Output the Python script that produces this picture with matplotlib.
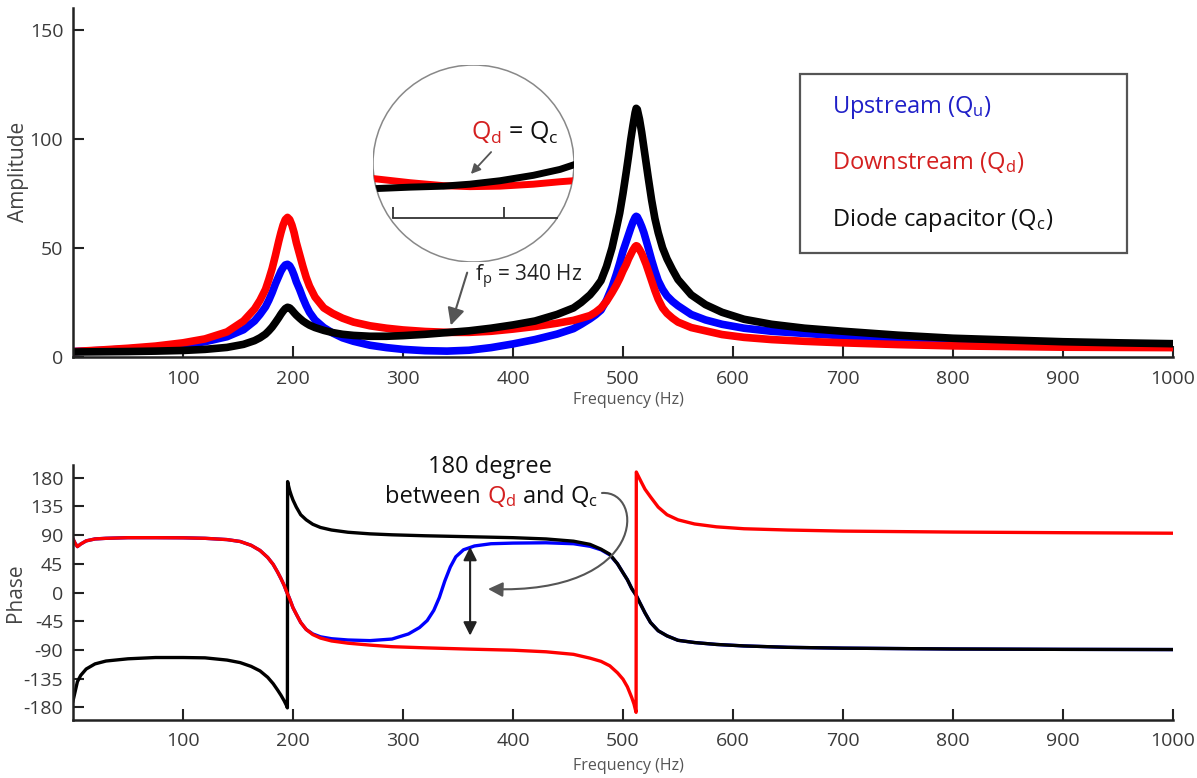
import matplotlib
matplotlib.use("Agg")
import matplotlib.pyplot as plt
from matplotlib.patches import Ellipse, Rectangle, FancyArrowPatch
from matplotlib.path import Path

plt.rcParams['font.family'] = ['Open Sans', 'DejaVu Sans']
plt.rcParams['mathtext.fontset'] = 'custom'
plt.rcParams['mathtext.rm'] = 'Open Sans'
plt.rcParams['mathtext.it'] = 'Open Sans:italic'
plt.rcParams['axes.unicode_minus'] = False

# ---- amplitude (top panel) ----
freq_amp = [0, 25, 50, 75, 100, 120, 140, 155, 165,
            170, 175, 178, 181, 184, 187, 189, 191, 193, 195, 197, 199, 201, 203, 206, 209, 212, 215, 220,
            228, 236, 245, 255, 270, 285, 300, 320, 340, 360, 380, 400, 420, 440, 455, 462, 470, 475,
            480, 485, 490, 494, 497, 500, 503, 505, 507, 509, 511, 512, 513, 515, 517, 519, 521, 523,
            526, 529, 532, 536, 540, 545, 550,
            562, 575, 590, 610, 635, 665, 700, 750, 800, 850, 900, 950, 1000]
amp_up = [2.5, 3.0, 3.7, 4.5, 5.6, 7.0, 9.3, 12.5, 16.5,
          19.5, 23, 26, 29.5, 33.5, 37, 39.3, 41, 42.2, 42.5, 41.8, 40, 37.5, 34.5, 31, 27, 23.5, 20.5, 17,
          13.5, 11, 8.8, 7.2, 5.4, 4.3, 3.5, 2.9, 2.7, 3.1, 4.3, 6.0, 8.0, 10.5, 13, 15, 17.5, 19.3,
          21.5, 26, 32, 38, 43, 48.5, 53, 56, 59, 61.8, 64, 64.5, 64.2, 62.2, 59.8, 57, 53.5, 50,
          44.5, 39.5, 35, 31, 28, 25.5, 23.5,
          19.5, 17, 15, 13.2, 11.8, 10.8, 9.7, 8.2, 7.1, 6.6, 6.1, 5.8, 5.5]
amp_down = [2.5, 3.2, 4.0, 5.0, 6.5, 8.3, 11.5, 16.5, 22,
            26, 31, 35.5, 40.5, 46.5, 53, 57, 60.5, 63, 64, 63, 60.5, 57, 52.5, 47, 41.5, 36.5, 32.5, 27.5,
            22.5, 20, 17.8, 16, 14.3, 13.2, 12.4, 11.7, 11.3, 11.3, 11.8, 12.8, 14, 15.5, 16.8, 17.8, 19, 20.5,
            22.5, 25.5, 29.5, 33, 36, 39.5, 42.5, 45, 47, 49, 50.6, 51, 50.8, 49.3, 47.5, 45, 42.5, 39.5,
            35, 30.5, 26.5, 22.5, 20, 17.8, 16,
            13.5, 12, 10.3, 9, 8, 7.2, 6.5, 5.7, 5.1, 4.8, 4.5, 4.4, 4.3]
amp_diode = [2.3, 2.4, 2.5, 2.7, 3.0, 3.5, 4.4, 5.8, 7.5,
             8.8, 10.5, 12, 13.7, 15.8, 18, 19.6, 21, 22.2, 22.8, 22.5, 21.5, 20.3, 19.2, 17.8, 16.5, 15.5, 14.6, 13.5,
             12.2, 11.2, 10.4, 9.9, 9.5, 9.5, 9.8, 10.4, 11.2, 12, 13.2, 14.7, 16.5, 19.5, 22.5, 25, 28.5, 31.5,
             35, 41.5, 50, 59, 66, 75, 85, 92, 99.5, 106, 112, 114, 113.5, 109, 103, 96, 89, 82,
             72, 63.5, 57, 50, 45, 40, 35.5,
             28.5, 24, 20.5, 17.3, 15, 13.2, 11.8, 10, 8.6, 7.8, 7.0, 6.5, 6.1]

# magnified view around f_p shown in the circle
inset_freq = [291.9, 307.7, 322.7, 334.7, 348.2, 363.2, 375.2, 381.2]
inset_down = [16.9, 16.1, 15.5, 15.3, 15.4, 15.8, 16.3, 16.5]
inset_diode = [14.9, 15.2, 15.4, 15.8, 16.5, 17.6, 18.8, 19.7]
inset_ticks = [300, 350]

# ---- phase (bottom panel) ----
ph_freq_down = [0, 2, 4, 7, 12, 20, 30, 50, 75, 100,
                120, 140, 152, 162, 170, 177, 182, 186, 189, 192,
                194, 195, 196.5, 198.5, 200, 203, 207, 212, 218, 225,
                235, 250, 270, 290, 320, 360, 400, 430, 455, 470,
                480, 488, 495, 500, 504, 508, 510, 511.9, 512.1, 513.5,
                517, 520, 525, 532, 540, 550, 565, 585, 610, 650,
                700, 800, 900, 1000]
ph_down = [84, 77, 72, 76, 81, 84, 85, 86, 86, 85.8,
           85, 83, 80, 74, 66, 55, 44, 32, 22, 11,
           2, -2, -8, -17, -24, -34, -47, -58, -66, -71.5,
           -76, -79.5, -82.5, -85, -86.8, -88.8, -90.5, -93, -97, -103,
           -108, -115, -126, -136, -148, -165, -175, -188, 189, 184,
           172, 162, 150, 134, 122, 114, 107.5, 103, 100, 98,
           96.3, 94.8, 93.8, 93]

ph_freq_up = [0, 2, 4, 7, 12, 20, 30, 50, 75, 100,
              120, 140, 152, 162, 170, 177, 182, 186, 189, 192,
              194, 195, 196.5, 198.5, 200, 203, 207, 212, 218, 225,
              235, 250, 270, 290, 305, 315, 322, 328, 333, 338,
              343, 348, 355, 365, 380, 400, 430, 455, 470, 480,
              488, 495, 500, 504, 508, 512, 515, 520, 525, 532,
              540, 550, 565, 585, 610, 650, 700, 800, 900, 1000]
ph_up = [84, 77, 72, 76, 81, 84, 85, 86, 86, 85.8,
         85, 83, 80, 74, 66, 55, 44, 32, 22, 11,
         2, -2, -8, -17, -24, -34, -47, -58, -65, -69.5,
         -72.5, -74.5, -75.5, -73, -65, -55, -44, -28, -8, 18,
         40, 56, 67, 73, 76.5, 77.5, 78, 76.5, 72.5, 67,
         59, 45, 31, 20, 6, -4.5, -15, -32, -47, -60,
         -68, -75, -78.5, -81.5, -83.8, -86, -87.3, -88.6, -89.2, -89.5]

ph_freq_diode = [0, 2, 4, 7, 12, 20, 30, 50, 75, 100,
                 120, 140, 152, 162, 170, 177, 182, 186, 189, 192,
                 193, 194, 194.9, 195.1, 196, 197, 198.5, 200, 203, 207,
                 212, 218, 225, 235, 250, 270, 290, 320, 360, 400,
                 430, 455, 470, 480, 488, 495, 500, 504, 508, 512,
                 515, 520, 525, 532, 540, 550, 565, 585, 610, 650,
                 700, 800, 900, 1000]
ph_diode = [-170, -155, -140, -130, -120, -112, -107.5, -104, -102, -102,
            -102.5, -106, -110, -116, -123, -133, -143, -153, -161, -170,
            -173.5, -177, -181, 174, 167, 160, 152, 145, 134, 122,
            114, 107, 102, 98, 94.5, 92, 90.5, 89, 87.5, 86,
            84, 80.5, 75.5, 68, 60, 45, 31, 20, 6, -4.5,
            -15, -32, -47, -60, -68, -75, -78.5, -81.5, -83.8, -86,
            -87.3, -88.6, -89.2, -89.5]

freq_ticks = [100, 200, 300, 400, 500, 600, 700, 800, 900, 1000]
amp_ticks = [0, 50, 100, 150]
phase_ticks = [-180, -135, -90, -45, 0, 45, 90, 135, 180]

BLUE, RED, BLACK = '#0000ff', '#ff0000', '#000000'
W, H = 1197, 778


def fx(x):
    return x / W


def fy(y):
    return 1 - y / H


def style_axis(ax):
    for s in ['top', 'right']:
        ax.spines[s].set_visible(False)
    for s in ['left', 'bottom']:
        ax.spines[s].set_linewidth(1.8)
        ax.spines[s].set_color('#222222')
    ax.tick_params(direction='in', length=8, width=1.5, color='#222222',
                   labelcolor='#3a3a3a', labelsize=14)
    ax.tick_params(axis='x', pad=9)
    ax.tick_params(axis='y', pad=7)


fig = plt.figure(figsize=(W / 100, H / 100), dpi=100)
ax1 = fig.add_axes([fx(73), fy(357), 1100 / W, 349 / H])
ax2 = fig.add_axes([fx(73), fy(720), 1100 / W, 255 / H])

# top panel
for vals, col in [(amp_up, BLUE), (amp_down, RED), (amp_diode, BLACK)]:
    ax1.plot(freq_amp, vals, color=col, lw=5.5, solid_capstyle='round', solid_joinstyle='round')
ax1.set_xlim(0, 1000)
ax1.set_ylim(0, 160)
ax1.set_xticks(freq_ticks)
ax1.set_yticks(amp_ticks)
style_axis(ax1)
ax1.set_xlabel('Frequency (Hz)', fontsize=11.5, color='#555555')
ax1.xaxis.set_label_coords(0.505, -0.10)
ax1.set_ylabel('Amplitude', fontsize=15, color='#444444')
ax1.yaxis.set_label_coords(-0.040, 0.53)

# bottom panel
ax2.plot(ph_freq_up, ph_up, color=BLUE, lw=2.4)
ax2.plot(ph_freq_diode, ph_diode, color=BLACK, lw=2.4)
ax2.plot(ph_freq_down, ph_down, color=RED, lw=2.4)
ax2.set_xlim(0, 1000)
ax2.set_ylim(-200, 200)
ax2.set_xticks(freq_ticks)
ax2.set_yticks(phase_ticks)
style_axis(ax2)
ax2.set_xlabel('Frequency (Hz)', fontsize=11.5, color='#555555')
ax2.xaxis.set_label_coords(0.505, -0.15)
ax2.set_ylabel('Phase', fontsize=15, color='#444444')
ax2.yaxis.set_label_coords(-0.043, 0.50)

# legend box
fig.patches.append(Rectangle((fx(800), fy(253)), 327 / W, 179 / H, transform=fig.transFigure,
                             fill=False, edgecolor='#555555', lw=1.6))
fig.text(fx(832), fy(113), r'Upstream ($\mathregular{Q_u}$)', color='#2020c8', fontsize=17)
fig.text(fx(832), fy(169), r'Downstream ($\mathregular{Q_d}$)', color='#d42020', fontsize=17)
fig.text(fx(832), fy(226), r'Diode capacitor ($\mathregular{Q_c}$)', color='#111111', fontsize=17)

# inset circle
ins = fig.add_axes([fx(373), fy(262), 201 / W, 197 / H])
ins.set_xlim(291, 381.5)
ins.set_ylim(0, 40)
ins.axis('off')
circ = Ellipse((0.5, 0.5), 1, 1, transform=ins.transAxes, facecolor='white',
               edgecolor='#888888', lw=1.1, zorder=0)
ins.add_patch(circ)
l1, = ins.plot(inset_freq, inset_down, color=RED, lw=5)
l2, = ins.plot(inset_freq, inset_diode, color=BLACK, lw=5)
l1.set_clip_path(circ)
l2.set_clip_path(circ)
ins.plot([inset_ticks[0], 373.9], [8.9, 8.9], color='#333333', lw=1.3)
ins.vlines(inset_ticks, 8.9, 11.2, color='#333333', lw=1.3)

renderer = fig.canvas.get_renderer()


def chain(parts, x, y, size):
    for s, c in parts:
        t = fig.text(x, y, s, color=c, fontsize=size)
        bb = t.get_window_extent(renderer=renderer)
        x = fig.transFigure.inverted().transform((bb.x1, bb.y0))[0]


chain([(r'$\mathregular{Q_d}$', '#d42020'), (r' = $\mathregular{Q_c}$', '#111111')],
      fx(471), fy(140), 18)
fig.patches.append(FancyArrowPatch((fx(493), fy(150)), (fx(469), fy(176)), transform=fig.transFigure,
                                   arrowstyle='-|>', mutation_scale=14, color='#555555', lw=1.3))

# f_p annotation
fig.text(fx(475), fy(281), r'$\mathregular{f_p}$ = 340 Hz', color='#222222', fontsize=15)
fig.patches.append(FancyArrowPatch((fx(468), fy(270)), (fx(450), fy(328)), transform=fig.transFigure,
                                   arrowstyle='-|>', mutation_scale=26, color='#555555', lw=1.5))

# 180 degree annotation
fig.text(fx(490), fy(473), '180 degree', color='#111111', fontsize=17, ha='center')
chain([('between ', '#111111'), (r'$\mathregular{Q_d}$', '#d42020'),
       (r' and $\mathregular{Q_c}$', '#111111')], fx(385), fy(503), 17)
ax2.annotate('', xy=(361, 76), xytext=(361, -72),
             arrowprops=dict(arrowstyle='<|-|>', color='#222222', lw=1.5, mutation_scale=20))
curve = Path([(fx(602), fy(493)), (fx(645), fy(490)), (fx(648), fy(595)), (fx(488), fy(589))],
             [Path.MOVETO, Path.CURVE4, Path.CURVE4, Path.CURVE4])
fig.patches.append(FancyArrowPatch(path=curve, transform=fig.transFigure, arrowstyle='-|>',
                                   mutation_scale=22, color='#555555', lw=1.5))

fig.savefig('out.png', dpi=100)
